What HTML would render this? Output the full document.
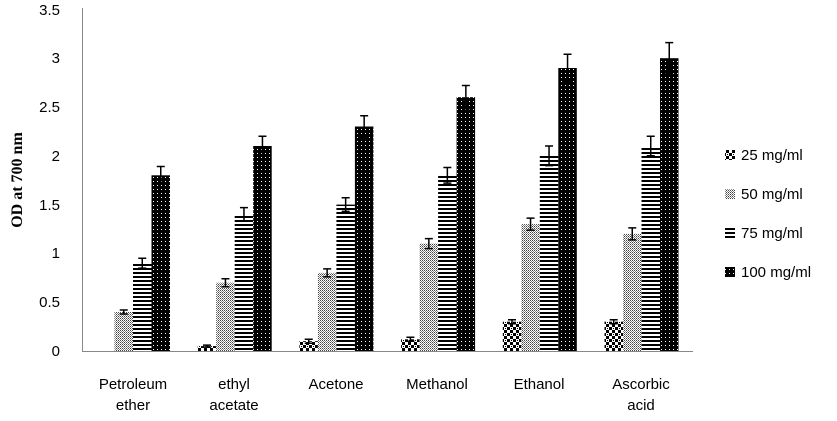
<!DOCTYPE html><html><head><style>body{margin:0;background:#fff}</style></head><body>
<svg width="837" height="416" xmlns="http://www.w3.org/2000/svg" font-family="Liberation Sans, sans-serif">
<defs>
<pattern id="p25" width="6" height="6" patternUnits="userSpaceOnUse"><rect width="6" height="6" fill="#fff"/><rect x="0" y="0" width="3" height="3" fill="#000"/><rect x="3" y="3" width="3" height="3" fill="#000"/><rect x="1" y="4" width="1" height="1" fill="#000"/></pattern>
<pattern id="p50" width="2" height="2" patternUnits="userSpaceOnUse"><rect width="2" height="2" fill="#fff"/><rect width="1" height="1" fill="#444"/><rect x="1" y="1" width="1" height="1" fill="#888"/></pattern>
<pattern id="p75" width="4" height="4" patternUnits="userSpaceOnUse"><rect width="4" height="4" fill="#fff"/><rect width="4" height="2" fill="#000"/></pattern>
<pattern id="p100" width="4" height="4" patternUnits="userSpaceOnUse"><rect width="4" height="4" fill="#000"/><rect x="1" y="1" width="1" height="1" fill="#fff"/></pattern>
</defs>
<g font-size="15" text-anchor="end" fill="#000">
<text x="60" y="356">0</text><text x="60" y="307">0.5</text><text x="60" y="258">1</text><text x="60" y="210">1.5</text><text x="60" y="161">2</text><text x="60" y="112">2.5</text><text x="60" y="63">3</text><text x="60" y="15">3.5</text>
</g>
<text transform="translate(22,180) rotate(-90)" font-family="Liberation Serif, serif" font-weight="bold" font-size="16" text-anchor="middle">OD at 700 nm</text>
<line x1="82.5" y1="8" x2="82.5" y2="351" stroke="#888"/>
<line x1="82" y1="351.5" x2="693" y2="351.5" stroke="#888"/>
<g>
<rect x="197.7" y="346.1" width="18.5" height="4.9" fill="url(#p25)"/>
<rect x="299.4" y="341.2" width="18.5" height="9.8" fill="url(#p25)"/>
<rect x="401.1" y="339.3" width="18.5" height="11.7" fill="url(#p25)"/>
<rect x="502.8" y="321.7" width="18.5" height="29.3" fill="url(#p25)"/>
<rect x="604.5" y="321.7" width="18.5" height="29.3" fill="url(#p25)"/>

<rect x="114.5" y="312" width="18.5" height="39" fill="url(#p50)"/>
<rect x="216.2" y="282.7" width="18.5" height="68.3" fill="url(#p50)"/>
<rect x="317.9" y="272.9" width="18.5" height="78.1" fill="url(#p50)"/>
<rect x="419.6" y="243.6" width="18.5" height="107.4" fill="url(#p50)"/>
<rect x="521.3" y="224.1" width="18.5" height="126.9" fill="url(#p50)"/>
<rect x="623" y="233.9" width="18.5" height="117.1" fill="url(#p50)"/>

<rect x="133" y="263.2" width="18.5" height="87.8" fill="url(#p75)"/>
<rect x="234.7" y="214.4" width="18.5" height="136.6" fill="url(#p75)"/>
<rect x="336.4" y="204.6" width="18.5" height="146.4" fill="url(#p75)"/>
<rect x="438.1" y="175.3" width="18.5" height="175.7" fill="url(#p75)"/>
<rect x="539.8" y="155.8" width="18.5" height="195.2" fill="url(#p75)"/>
<rect x="641.5" y="146" width="18.5" height="205" fill="url(#p75)"/>

<rect x="151.5" y="175.3" width="18.5" height="175.7" fill="url(#p100)"/>
<rect x="253.2" y="146" width="18.5" height="205" fill="url(#p100)"/>
<rect x="354.9" y="126.5" width="18.5" height="224.5" fill="url(#p100)"/>
<rect x="456.6" y="97.2" width="18.5" height="253.8" fill="url(#p100)"/>
<rect x="558.3" y="68" width="18.5" height="283" fill="url(#p100)"/>
<rect x="660" y="58.2" width="18.5" height="292.8" fill="url(#p100)"/>
</g>
<g stroke="#000" stroke-width="1.5" fill="none">
<path d="M203 345.1h8M207 345.1V347.1M203 347.1h8"/>
<path d="M304.7 339.2h8M308.7 339.2V343.2M304.7 343.2h8"/>
<path d="M406.4 337.3h8M410.4 337.3V341.3M406.4 341.3h8"/>
<path d="M508 319.7h8M512 319.7V323.7M508 323.7h8"/>
<path d="M609.7 319.7h8M613.7 319.7V323.7M609.7 323.7h8"/>

<path d="M119.75 310h8M123.75 310V314M119.75 314h8"/>
<path d="M221.45 278.7h8M225.45 278.7V286.7M221.45 286.7h8"/>
<path d="M323.15 268.9h8M327.15 268.9V276.9M323.15 276.9h8"/>
<path d="M424.85 238.6h8M428.85 238.6V248.6M424.85 248.6h8"/>
<path d="M526.55 218.1h8M530.55 218.1V230.1M526.55 230.1h8"/>
<path d="M628.25 227.9h8M632.25 227.9V239.9M628.25 239.9h8"/>

<path d="M138.25 258.3h8M142.25 258.3V268.1M138.25 268.1h8"/>
<path d="M239.95 207.6h8M243.95 207.6V221.2M239.95 221.2h8"/>
<path d="M341.65 197.8h8M345.65 197.8V211.4M341.65 211.4h8"/>
<path d="M443.35 167.5h8M447.35 167.5V183.1M443.35 183.1h8"/>
<path d="M545.05 146h8M549.05 146V165.6M545.05 165.6h8"/>
<path d="M646.75 136.2h8M650.75 136.2V155.8M646.75 155.8h8"/>

<path d="M156.75 166.5h8M160.75 166.5V184.1M156.75 184.1h8"/>
<path d="M258.45 136.2h8M262.45 136.2V155.8M258.45 155.8h8"/>
<path d="M360.15 115.8h8M364.15 115.8V137.2M360.15 137.2h8"/>
<path d="M461.85 85.5h8M465.85 85.5V108.9M461.85 108.9h8"/>
<path d="M563.55 54.3h8M567.55 54.3V81.7M563.55 81.7h8"/>
<path d="M665.25 42.6h8M669.25 42.6V73.8M665.25 73.8h8"/>
</g>
<g font-size="15" text-anchor="middle">
<text x="133" y="389">Petroleum</text><text x="133" y="410">ether</text>
<text x="234" y="389">ethyl</text><text x="234" y="410">acetate</text>
<text x="336" y="389">Acetone</text>
<text x="437" y="389">Methanol</text>
<text x="539" y="389">Ethanol</text>
<text x="641" y="389">Ascorbic</text><text x="641" y="410">acid</text>
</g>
<g font-size="15">
<rect x="725" y="150" width="10" height="10" fill="url(#p25)"/><text x="741" y="160">25 mg/ml</text>
<rect x="725" y="189" width="10" height="10" fill="url(#p50)"/><text x="741" y="199">50 mg/ml</text>
<rect x="725" y="228" width="10" height="10" fill="url(#p75)"/><text x="741" y="238">75 mg/ml</text>
<rect x="725" y="267" width="10" height="10" fill="url(#p100)"/><text x="741" y="277">100 mg/ml</text>
</g>
</svg></body></html>
